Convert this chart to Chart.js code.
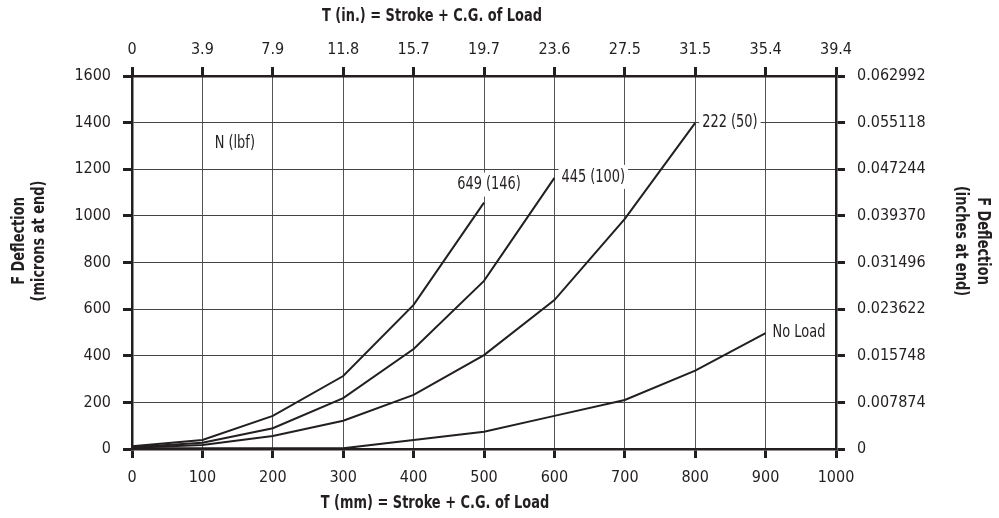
<!DOCTYPE html>
<html>
<head>
<meta charset="utf-8">
<script src="https://cdn.jsdelivr.net/npm/chart.js@4.4.1/dist/chart.umd.min.js"></script>
<style>
  html, body { margin: 0; padding: 0; background: #fff; }
  #wrap { width: 999px; height: 518px; }
</style>
</head>
<body>
<div id="wrap"><canvas id="deflection-chart" width="999" height="518"></canvas></div>
<script>
// T (mm) positions of the measured points
var strokeMm = [0, 100, 200, 300, 400, 500, 600, 700, 800, 900];

// F deflection, microns at end
var load649 = [12, 39, 142, 313, 618, 1057];
var load445 = [8, 27, 89, 218, 429, 721, 1163];
var load222 = [5, 17, 56, 121, 232, 403, 639, 987, 1399];
var noLoad  = [3, 3, 3, 3, 39, 74, 142, 210, 336, 497];

var seriesNames = ["649 (146)", "445 (100)", "222 (50)", "No Load"];

// tick labels
var inchTicks = ["0", "3.9", "7.9", "11.8", "15.7", "19.7", "23.6", "27.5", "31.5", "35.4", "39.4"];
var inchDeflTicks = ["0", "0.007874", "0.015748", "0.023622", "0.031496", "0.039370", "0.047244", "0.055118", "0.062992"];

var FONT = "'DejaVu Sans Condensed', 'Liberation Sans Narrow', 'Roboto', sans-serif";
var INK = "#231f20";

function toPoints(values) {
    return values.map(function (v, i) { return { x: strokeMm[i], y: v }; });
}

function lineSet(label, values) {
    return {
        label: label,
        data: toPoints(values),
        borderColor: INK,
        borderWidth: 2,
        pointRadius: 0,
        tension: 0,
        fill: false
    };
}

function fixSize(prop, size) {
    return function (scale) { scale[prop] = size; };
}

// text squeezed a bit sideways so it looks like the condensed face of the original
function narrowText(ctx, text, x, y, squeeze) {
    ctx.save();
    ctx.translate(x, y);
    ctx.scale(squeeze, 1);
    ctx.fillText(text, 0, 0);
    ctx.restore();
}

// axis titles and series labels
var textPlugin = {
    id: 'texts',
    afterDatasetsDraw: function (chart) {
        var ctx = chart.ctx;
        var xs = chart.scales.x, ys = chart.scales.y;
        var sq = 0.8;
        ctx.save();
        ctx.font = "18px " + FONT;
        ctx.fillStyle = INK;
        ctx.textBaseline = 'middle';

        chart.data.datasets.forEach(function (ds, i) {
            var last = ds.data[ds.data.length - 1];
            var px = xs.getPixelForValue(last.x);
            var py = ys.getPixelForValue(last.y);
            var w = ctx.measureText(ds.label).width * sq;
            var tx, ty;
            if (i === 0) {
                tx = px - w / 2 + 5; ty = py - 18;
            } else {
                tx = px + 7; ty = py - 1;
            }
            ctx.fillStyle = '#fff';
            ctx.fillRect(tx - 3, ty - 12, w + 6, 24);
            ctx.fillStyle = INK;
            ctx.textAlign = 'left';
            narrowText(ctx, ds.label, tx, ty, sq);
        });

        ctx.textAlign = 'center';
        narrowText(ctx, "N (lbf)", xs.getPixelForValue(146), ys.getPixelForValue(1313), sq);

        ctx.font = "bold 18px " + FONT;
        narrowText(ctx, "T (in.) = Stroke + C.G. of Load", 432, 16, sq);
        narrowText(ctx, "T (mm) = Stroke + C.G. of Load", 435, 503, sq);

        ctx.save();
        ctx.translate(29, 241);
        ctx.rotate(-Math.PI / 2);
        narrowText(ctx, "F Deflection", 0, -10, sq);
        narrowText(ctx, "(microns at end)", 0, 10, sq);
        ctx.restore();

        ctx.save();
        ctx.translate(971, 241);
        ctx.rotate(Math.PI / 2);
        narrowText(ctx, "F Deflection", 0, -12, sq);
        narrowText(ctx, "(inches at end)", 0, 10, sq);
        ctx.restore();

        ctx.restore();
    }
};

var tickFont = { family: FONT, size: 16 };

new Chart(document.getElementById("deflection-chart"), {
    type: 'line',
    data: {
        datasets: [
            lineSet(seriesNames[0], load649),
            lineSet(seriesNames[1], load445),
            lineSet(seriesNames[2], load222),
            lineSet(seriesNames[3], noLoad)
        ]
    },
    options: {
        responsive: false,
        animation: false,
        layout: { padding: 0 },
        plugins: {
            legend: { display: false },
            tooltip: { enabled: false }
        },
        scales: {
            x: {
                type: 'linear', position: 'bottom', min: 0, max: 1000,
                afterFit: fixSize('height', 69),
                ticks: {
                    stepSize: 100, color: INK, font: tickFont, padding: 10, maxRotation: 0,
                    callback: function (v) { return String(v); }
                },
                grid: { color: '#555', lineWidth: 1, tickLength: 9, tickWidth: 3, tickColor: INK },
                border: { color: INK, width: 2.5 }
            },
            x2: {
                type: 'linear', position: 'top', min: 0, max: 1000,
                afterFit: fixSize('height', 76),
                ticks: {
                    stepSize: 100, color: INK, font: tickFont, padding: 8, maxRotation: 0,
                    callback: function (v) { return inchTicks[Math.round(v / 100)]; }
                },
                grid: { drawOnChartArea: false, tickLength: 9, tickWidth: 3, tickColor: INK },
                border: { color: INK, width: 2.5 }
            },
            y: {
                type: 'linear', position: 'left', min: 0, max: 1600,
                afterFit: fixSize('width', 132),
                ticks: {
                    stepSize: 200, color: INK, font: tickFont, padding: 12,
                    callback: function (v) { return String(v); }
                },
                grid: { color: '#444', lineWidth: 1, tickLength: 9, tickWidth: 3, tickColor: INK },
                border: { color: INK, width: 2.5 }
            },
            y2: {
                type: 'linear', position: 'right', min: 0, max: 1600,
                afterFit: fixSize('width', 163),
                ticks: {
                    stepSize: 200, color: INK, font: tickFont, padding: 12,
                    callback: function (v) { return inchDeflTicks[Math.round(v / 200)]; }
                },
                grid: { drawOnChartArea: false, tickLength: 9, tickWidth: 3, tickColor: INK },
                border: { color: INK, width: 2.5 }
            }
        }
    },
    plugins: [textPlugin]
});
</script>
</body>
</html>
